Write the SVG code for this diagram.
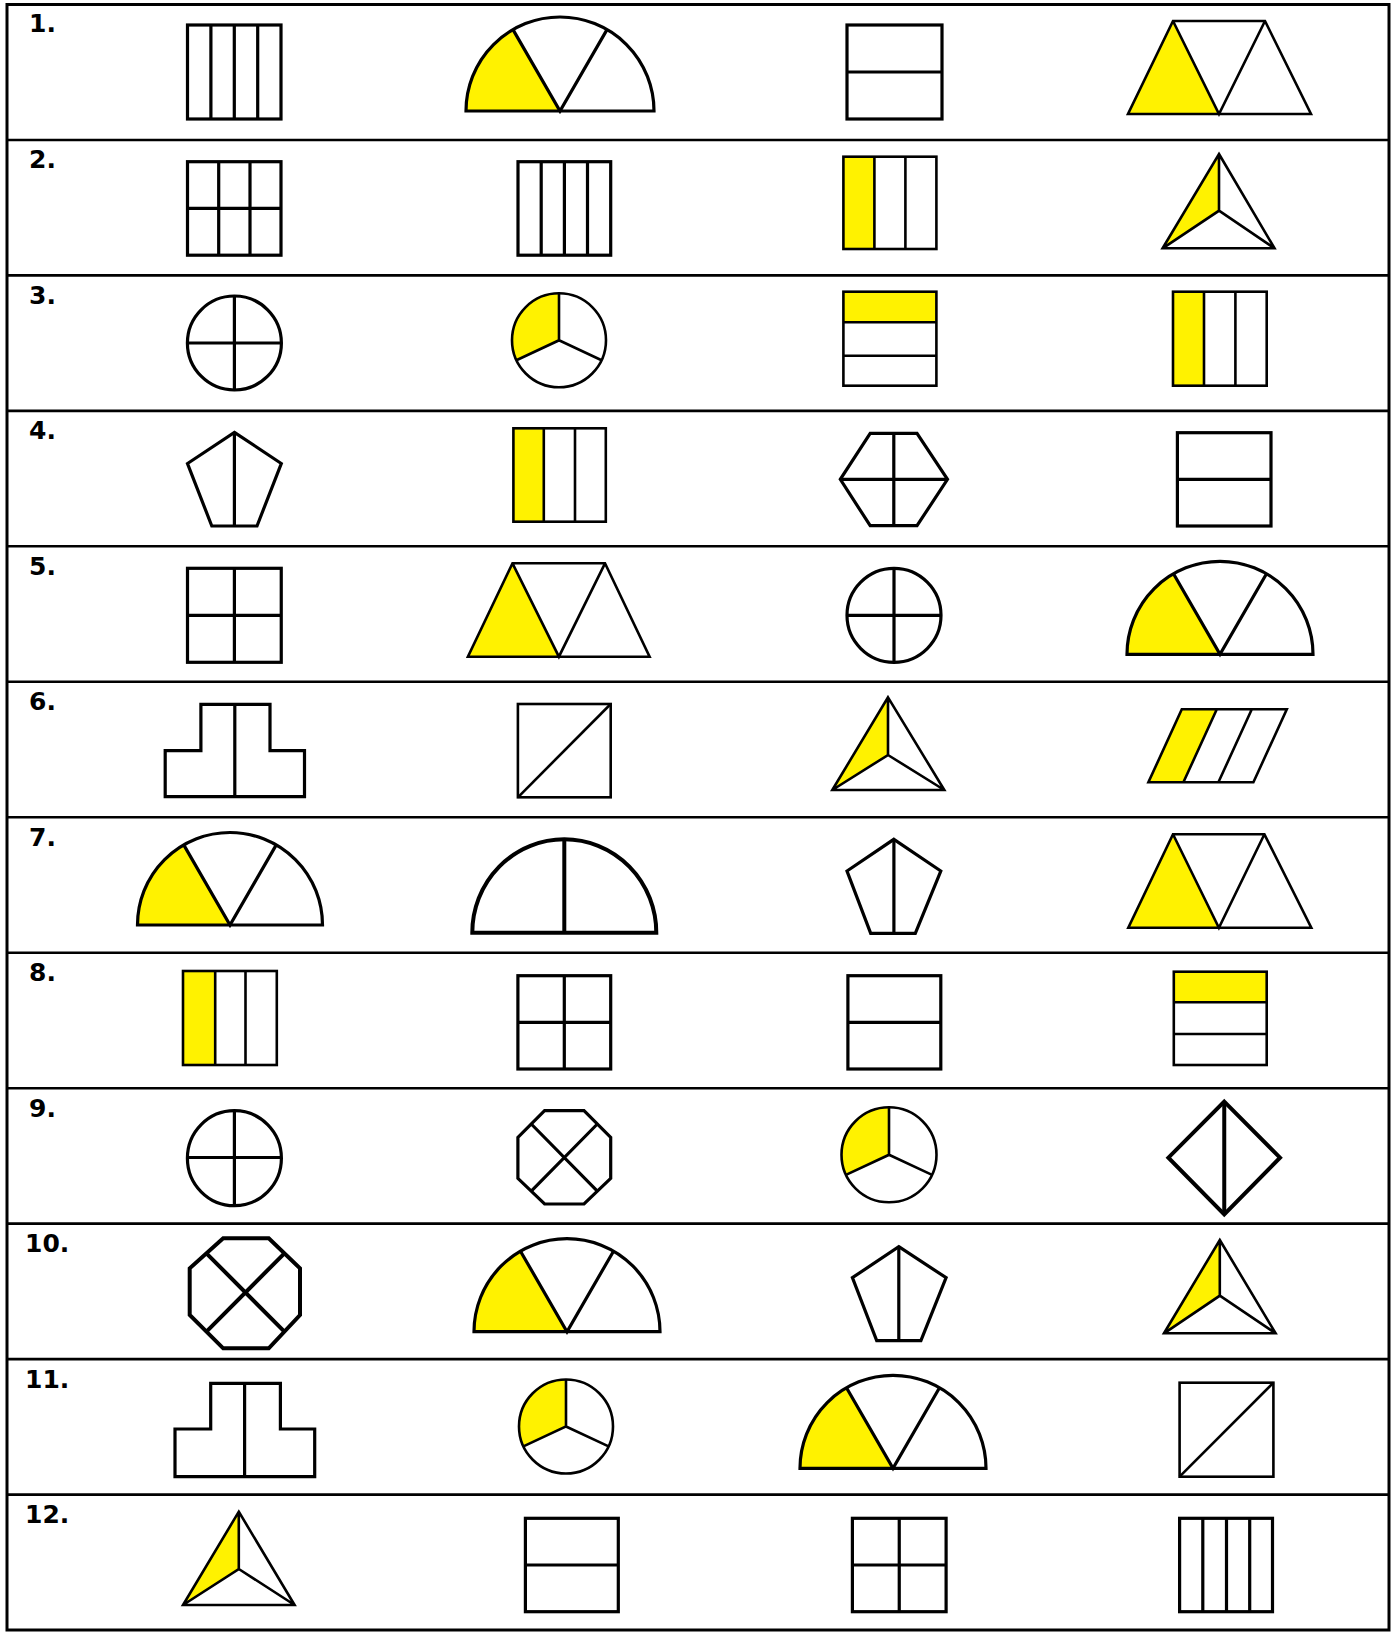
<svg xmlns="http://www.w3.org/2000/svg" width="1393" height="1633" viewBox="0 0 1393 1633">
<style>
.s{fill:none;stroke:#000;stroke-width:3.2;stroke-linejoin:miter}
.t{fill:none;stroke:#000;stroke-width:2.6;stroke-linejoin:miter}
.h{fill:none;stroke:#000;stroke-width:4}
.y{fill:#FFF200;stroke:none}
.g{fill:none;stroke:#000;stroke-width:2.6}
.lbl{font-family:"DejaVu Sans","Liberation Sans",sans-serif;font-weight:bold;font-size:25px;fill:#000}
</style>
<rect width="1393" height="1633" fill="#fff"/>
<g id="table">
<rect x="7" y="4.5" width="1382" height="1625.5" fill="none" stroke="#000" stroke-width="3"/>
<path class="g" d="M7,140H1389M7,275.4H1389M7,410.9H1389M7,546.3H1389M7,681.8H1389M7,817.3H1389M7,952.7H1389M7,1088.2H1389M7,1223.6H1389M7,1359.1H1389M7,1494.6H1389"/>
</g>
<g id="labels">
<text class="lbl" x="29" y="32">1.</text>
<text class="lbl" x="29" y="168">2.</text>
<text class="lbl" x="29" y="304">3.</text>
<text class="lbl" x="29" y="439">4.</text>
<text class="lbl" x="29" y="575">5.</text>
<text class="lbl" x="29" y="710">6.</text>
<text class="lbl" x="29" y="846">7.</text>
<text class="lbl" x="29" y="981">8.</text>
<text class="lbl" x="29" y="1117">9.</text>
<text class="lbl" x="25" y="1252">10.</text>
<text class="lbl" x="25" y="1388">11.</text>
<text class="lbl" x="25" y="1523">12.</text>
</g>
<!-- Row 1 -->
<g id="r1c1"><rect class="s" x="187.5" y="25" width="93.5" height="94"/><path class="s" d="M210.9,25V119M234.3,25V119M257.7,25V119"/></g>
<g id="r1c2"><path class="y" d="M466,111A94,94 0 0 1 513,29.6L560,111Z"/><path class="s" d="M466,111A94,94 0 0 1 654,111Z"/><path class="s" d="M513,29.6L560,111L607,29.6"/></g>
<g id="r1c3"><rect class="s" x="847" y="25" width="95" height="94"/><path class="s" d="M847,72H942"/></g>
<g id="r1c4"><path class="y" d="M1128,114L1173,21L1219,114Z"/><path class="t" d="M1128,114H1311L1265,21H1173ZM1173,21L1219,114L1265,21"/></g>
<!-- Row 2 -->
<g id="r2c1"><rect class="s" x="187.5" y="161.7" width="93.5" height="93.5"/><path class="s" d="M218.7,161.7V255.2M250,161.7V255.2M187.5,208.4H281"/></g>
<g id="r2c2"><rect class="s" x="518" y="161.7" width="92.7" height="93.5"/><path class="s" d="M541.2,161.7V255.2M564.4,161.7V255.2M587.5,161.7V255.2"/></g>
<g id="r2c3"><rect class="y" x="843.4" y="156.7" width="31" height="92.3"/><rect class="t" x="843.4" y="156.7" width="93" height="92.3"/><path class="t" d="M874.4,156.7V249M905.4,156.7V249"/></g>
<g id="r2c4"><path class="y" d="M1219,154L1162.6,248.3L1219,210.7Z"/><path class="t" d="M1219,154L1274.5,248.3H1162.6ZM1219,154V210.7L1162.6,248.3M1219,210.7L1274.5,248.3"/></g>
<!-- Row 3 -->
<g id="r3c1"><circle class="s" cx="234.4" cy="343" r="47"/><path class="s" d="M234.4,296V390M187.4,343H281.4"/></g>
<g id="r3c2"><path class="y" d="M559,340.3L559,293.3A47,47 0 0 0 516.4,360.2Z"/><circle class="t" cx="559" cy="340.3" r="47"/><path class="t" d="M559,293.3V340.3L516.4,360.2M559,340.3L601.6,360.2"/></g>
<g id="r3c3"><rect class="y" x="843.4" y="291.7" width="93" height="30.6"/><rect class="t" x="843.4" y="291.7" width="93" height="94"/><path class="t" d="M843.4,322.3H936.4M843.4,355.7H936.4"/></g>
<g id="r3c4"><rect class="y" x="1173" y="291.7" width="31" height="94"/><rect class="t" x="1173" y="291.7" width="93.7" height="94"/><path class="t" d="M1204,291.7V385.7M1235.4,291.7V385.7"/></g>
<!-- Row 4 -->
<g id="r4c1"><path class="s" d="M234.4,432.3L281.3,463.5L257,526H211.8L187.5,463.5Z"/><path class="s" d="M234.4,432.3V526"/></g>
<g id="r4c2"><rect class="y" x="513.4" y="428.3" width="30.4" height="93.4"/><rect class="t" x="513.4" y="428.3" width="92.4" height="93.4"/><path class="t" d="M543.8,428.3V521.7M575,428.3V521.7"/></g>
<g id="r4c3"><path class="s" d="M870.2,433.3H917L947.5,479.3L917,525.7H870.2L840.3,479.3Z"/><path class="s" d="M893.8,433.3V525.7M840.3,479.3H947.5"/></g>
<g id="r4c4"><rect class="s" x="1177.4" y="432.7" width="93.6" height="93.3"/><path class="s" d="M1177.4,479.3H1271"/></g>
<!-- Row 5 -->
<g id="r5c1"><rect class="s" x="187.5" y="568.3" width="93.75" height="94"/><path class="s" d="M234.4,568.3V662.3M187.5,615.3H281.25"/></g>
<g id="r5c2"><path class="y" d="M467.9,656.7L512.5,563.3L558.9,656.7Z"/><path class="t" d="M467.9,656.7H649.6L605,563.3H512.5ZM512.5,563.3L558.9,656.7L605,563.3"/></g>
<g id="r5c3"><circle class="s" cx="894" cy="615.3" r="47"/><path class="s" d="M894,568.3V662.3M847,615.3H941"/></g>
<g id="r5c4"><path class="y" d="M1127,654.3A93,93 0 0 1 1173.5,573.8L1220,654.3Z"/><path class="s" d="M1127,654.3A93,93 0 0 1 1313,654.3Z"/><path class="s" d="M1173.5,573.8L1220,654.3L1266.5,573.8"/></g>
<!-- Row 6 -->
<g id="r6c1"><path class="s" d="M200.9,704.3H270V750.7H304.5V796.7H165.2V750.7H200.9Z"/><path class="s" d="M234.8,704.3V796.7"/></g>
<g id="r6c2"><rect class="t" x="517.9" y="704" width="92.8" height="93.3"/><path class="t" d="M517.9,797.3L610.7,704"/></g>
<g id="r6c3"><path class="y" d="M888,697.3L832.3,790L888,755Z"/><path class="t" d="M888,697.3L944.3,790H832.3ZM888,697.3V755L832.3,790M888,755L944.3,790"/></g>
<g id="r6c4"><path class="y" d="M1181.8,709.3H1216.8L1183.4,782.3H1148.4Z"/><path class="t" d="M1181.8,709.3H1286.8L1253.4,782.3H1148.4ZM1216.8,709.3L1183.4,782.3M1251.8,709.3L1218.4,782.3"/></g>
<!-- Row 7 -->
<g id="r7c1"><path class="y" d="M137.5,925A92.5,92.5 0 0 1 183.75,844.9L230,925Z"/><path class="s" d="M137.5,925A92.5,92.5 0 0 1 322.5,925Z"/><path class="s" d="M183.75,844.9L230,925L276.25,844.9"/></g>
<g id="r7c2"><path class="h" d="M472.3,932.7A92,93.4 0 0 1 656.3,932.7Z"/><path class="h" d="M564.3,839.3V932.7"/></g>
<g id="r7c3"><path class="s" d="M893.9,839.3L940.8,871L915.3,933.3H870.7L847,871Z"/><path class="s" d="M893.9,839.3V933.3"/></g>
<g id="r7c4"><path class="y" d="M1128.3,927.7L1173,834.3L1218.9,927.7Z"/><path class="t" d="M1128.3,927.7H1311.3L1264.4,834.3H1173ZM1173,834.3L1218.9,927.7L1264.4,834.3"/></g>
<!-- Row 8 -->
<g id="r8c1"><rect class="y" x="183" y="971" width="32.2" height="94"/><rect class="t" x="183" y="971" width="93.8" height="94"/><path class="t" d="M215.2,971V1065M245.5,971V1065"/></g>
<g id="r8c2"><rect class="s" x="517.9" y="975.7" width="92.8" height="93.3"/><path class="s" d="M564.3,975.7V1069M517.9,1022.3H610.7"/></g>
<g id="r8c3"><rect class="s" x="847.9" y="975.7" width="92.9" height="93.3"/><path class="s" d="M847.9,1022.3H940.8"/></g>
<g id="r8c4"><rect class="y" x="1173.8" y="971.7" width="92.9" height="30.6"/><rect class="t" x="1173.8" y="971.7" width="92.9" height="93.3"/><path class="t" d="M1173.8,1002.3H1266.7M1173.8,1034H1266.7"/></g>
<!-- Row 9 -->
<g id="r9c1"><ellipse class="s" cx="234.4" cy="1158.2" rx="47" ry="47.5"/><path class="s" d="M234.4,1110.7V1205.7M187.4,1157.5H281.4"/></g>
<g id="r9c2"><path class="s" d="M544.6,1110.7H584L610.7,1137.3V1178.3L584,1204H544.6L517.9,1178.3V1137.3Z"/><path class="s" d="M531.25,1124L597.35,1191.15M597.35,1124L531.25,1191.15"/></g>
<g id="r9c3"><path class="y" d="M889,1154.8L889,1107.3A47.5,47.5 0 0 0 845.95,1174.87Z"/><circle class="t" cx="889" cy="1154.8" r="47.5"/><path class="t" d="M889,1107.3V1154.8L845.95,1174.87M889,1154.8L932.05,1174.87"/></g>
<g id="r9c4"><path class="h" d="M1224.25,1101.7L1280,1157.7L1224.25,1214.3L1168.4,1157.7Z"/><path class="h" d="M1224.25,1101.7V1214.3"/></g>
<!-- Row 10 -->
<g id="r10c1"><path class="h" d="M223.2,1238.3H268.75L300,1268.3V1315L268.75,1348.3H223.2L189.7,1315V1268.3Z"/><path class="h" d="M206.45,1253.3L284.4,1331.65M284.4,1253.3L206.45,1331.65"/></g>
<g id="r10c2"><path class="y" d="M474,1331.7A93,93 0 0 1 520.5,1251.2L567,1331.7Z"/><path class="s" d="M474,1331.7A93,93 0 0 1 660,1331.7Z"/><path class="s" d="M520.5,1251.2L567,1331.7L613.5,1251.2"/></g>
<g id="r10c3"><path class="s" d="M898.8,1246.7L946.1,1277.7L920.9,1340.7H876.7L852.4,1277.7Z"/><path class="s" d="M898.8,1246.7V1340.7"/></g>
<g id="r10c4"><path class="y" d="M1219.8,1240L1164,1333.3L1219.8,1295.7Z"/><path class="t" d="M1219.8,1240L1275.6,1333.3H1164ZM1219.8,1240V1295.7L1164,1333.3M1219.8,1295.7L1275.6,1333.3"/></g>
<!-- Row 11 -->
<g id="r11c1"><path class="s" d="M210.7,1383.3H280.4V1429H314.7V1476.7H175V1429H210.7Z"/><path class="s" d="M244.6,1383.3V1476.7"/></g>
<g id="r11c2"><path class="y" d="M566,1426.5L566,1379.5A47,47 0 0 0 523.4,1446.36Z"/><circle class="t" cx="566" cy="1426.5" r="47"/><path class="t" d="M566,1379.5V1426.5L523.4,1446.36M566,1426.5L608.6,1446.36"/></g>
<g id="r11c3"><path class="y" d="M800,1468.3A93,93 0 0 1 846.5,1387.8L893,1468.3Z"/><path class="s" d="M800,1468.3A93,93 0 0 1 986,1468.3Z"/><path class="s" d="M846.5,1387.8L893,1468.3L939.5,1387.8"/></g>
<g id="r11c4"><rect class="t" x="1179.6" y="1382.7" width="93.8" height="94"/><path class="t" d="M1179.6,1476.7L1273.4,1382.7"/></g>
<!-- Row 12 -->
<g id="r12c1"><path class="y" d="M238.8,1511.7L183,1605L238.8,1569Z"/><path class="t" d="M238.8,1511.7L294.6,1605H183ZM238.8,1511.7V1569L183,1605M238.8,1569L294.6,1605"/></g>
<g id="r12c2"><rect class="s" x="525.4" y="1518.3" width="92.9" height="93.4"/><path class="s" d="M525.4,1565H618.3"/></g>
<g id="r12c3"><rect class="s" x="852.4" y="1518.3" width="93.7" height="93.4"/><path class="s" d="M899.25,1518.3V1611.7M852.4,1565H946.1"/></g>
<g id="r12c4"><rect class="s" x="1179.6" y="1518.3" width="92.9" height="93.4"/><path class="s" d="M1202.8,1518.3V1611.7M1226.5,1518.3V1611.7M1249.7,1518.3V1611.7"/></g>
</svg>
